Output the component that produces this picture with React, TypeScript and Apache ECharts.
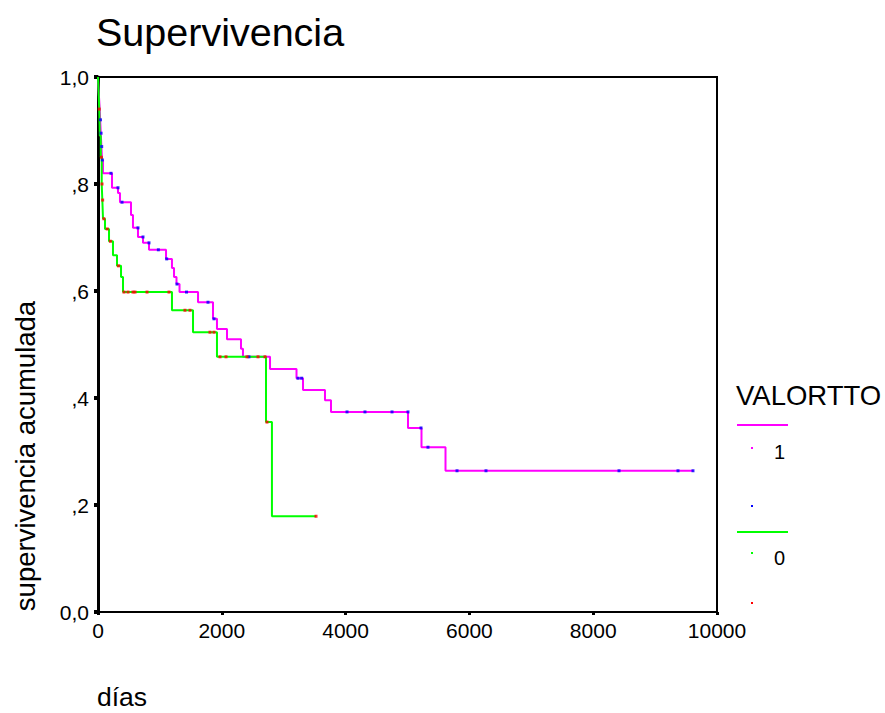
import React, { useEffect, useRef } from "react";
import * as echarts from "echarts";

const FONT = "'Liberation Sans', Arial, sans-serif";

// Kaplan-Meier steps, group VALORTTO = 1 (days, cumulative survival)
const group1Days = [0, 5, 15, 25, 35, 45, 55, 65, 80, 226, 323, 355, 533, 565, 646, 727, 824, 1099, 1195, 1228, 1268, 1317, 1616, 1858, 1922, 2084, 2310, 2342, 2779, 3207, 3312, 3667, 3764, 5008, 5226, 5614, 9620];
const group1Surv = [1.0, 0.985, 0.965, 0.945, 0.92, 0.895, 0.87, 0.845, 0.82, 0.793, 0.783, 0.766, 0.742, 0.718, 0.701, 0.69, 0.677, 0.66, 0.643, 0.626, 0.613, 0.598, 0.579, 0.548, 0.529, 0.51, 0.492, 0.477, 0.454, 0.437, 0.415, 0.396, 0.374, 0.344, 0.308, 0.264, 0.264];

// Kaplan-Meier steps, group VALORTTO = 0
const group0Days = [0, 10, 20, 30, 45, 60, 70, 81, 113, 178, 242, 307, 372, 404, 1195, 1535, 1922, 2714, 2810, 3522];
const group0Surv = [1.0, 0.97, 0.94, 0.89, 0.85, 0.8, 0.77, 0.735, 0.716, 0.693, 0.667, 0.647, 0.626, 0.598, 0.564, 0.523, 0.477, 0.355, 0.179, 0.179];

// Censored observations
const censored1Days = [40, 50, 60, 70, 210, 323, 388, 646, 727, 824, 975, 1110, 1276, 1430, 1777, 1874, 2439, 3231, 3290, 4023, 4313, 4750, 5008, 5218, 5331, 5800, 6268, 8417, 9370, 9612];
const censored1Surv = [0.92, 0.895, 0.87, 0.845, 0.82, 0.793, 0.766, 0.718, 0.701, 0.69, 0.677, 0.66, 0.613, 0.598, 0.579, 0.548, 0.477, 0.437, 0.437, 0.374, 0.374, 0.374, 0.374, 0.344, 0.308, 0.264, 0.264, 0.264, 0.264, 0.264];
const censored0Days = [20, 55, 65, 75, 95, 150, 200, 330, 420, 485, 565, 598, 792, 1147, 1405, 1486, 1809, 1874, 1971, 2068, 2407, 2585, 2698, 2730, 3522];
const censored0Surv = [0.94, 0.85, 0.8, 0.77, 0.735, 0.716, 0.693, 0.647, 0.598, 0.598, 0.598, 0.598, 0.598, 0.598, 0.564, 0.564, 0.523, 0.523, 0.477, 0.477, 0.477, 0.477, 0.477, 0.355, 0.179];

const yTickLabels: Record<string, string> = { "0": "0,0", "0.2": ",2", "0.4": ",4", "0.6": ",6", "0.8": ",8", "1": "1,0" };

const legendTitle = "VALORTTO";
const legendLabels = ["1", "0"];

const zip = (a: number[], b: number[]) => a.map((v, i) => [v, b[i]]);

export default function App() {
  const ref = useRef<HTMLDivElement>(null);
  useEffect(() => {
    if (!ref.current) return;
    const chart = echarts.init(ref.current, null, { renderer: "svg" });
    const dot = (x: number, y: number, c: string) => ({
      type: "rect",
      shape: { x: x - 1, y: y - 1, width: 2, height: 2 },
      style: { fill: c },
    });
    chart.setOption({
      animation: false,
      backgroundColor: "#fff",
      grid: {
        left: 98,
        top: 77,
        right: 168,
        bottom: 101,
        show: true,
        borderColor: "#000",
        borderWidth: 2,
        backgroundColor: "transparent",
      },
      xAxis: {
        type: "value",
        min: 0,
        max: 10000,
        interval: 2000,
        splitLine: { show: false },
        axisLine: { lineStyle: { color: "#000", width: 2 } },
        axisTick: { show: true, length: 3, lineStyle: { color: "#000", width: 3 } },
        axisLabel: { color: "#000", fontSize: 21, fontFamily: FONT, margin: 8, formatter: (v: number) => String(v) },
      },
      yAxis: {
        type: "value",
        min: 0,
        max: 1,
        interval: 0.2,
        splitLine: { show: false },
        axisLine: { lineStyle: { color: "#000", width: 3 } },
        axisTick: { show: true, length: 4, lineStyle: { color: "#000", width: 4 } },
        axisLabel: {
          color: "#000",
          fontSize: 21,
          fontFamily: FONT,
          margin: 9,
          formatter: (v: number) => yTickLabels[String(Math.round(v * 10) / 10)] ?? String(v),
        },
      },
      series: [
        {
          type: "line",
          step: "end",
          showSymbol: false,
          data: zip(group1Days, group1Surv),
          lineStyle: { color: "#ff00ff", width: 2 },
          itemStyle: { color: "#ff00ff" },
          z: 2,
        },
        {
          type: "line",
          step: "end",
          showSymbol: false,
          data: zip(group0Days, group0Surv),
          lineStyle: { color: "#00ff00", width: 2 },
          itemStyle: { color: "#00ff00" },
          z: 3,
        },
        {
          type: "scatter",
          symbol: "rect",
          symbolSize: 3,
          data: zip(censored1Days, censored1Surv),
          itemStyle: { color: "#0000ff" },
          z: 4,
        },
        {
          type: "scatter",
          symbol: "rect",
          symbolSize: 3,
          data: zip(censored0Days, censored0Surv),
          itemStyle: { color: "#ff0000" },
          z: 5,
        },
      ],
      graphic: [
        {
          type: "text",
          x: 96,
          y: 32,
          style: { text: "Supervivencia", fontSize: 39.5, fontFamily: FONT, fill: "#000", align: "left", verticalAlign: "middle" },
        },
        {
          type: "text",
          x: 25,
          y: 456,
          rotation: Math.PI / 2,
          style: { text: "supervivencia acumulada", fontSize: 27.5, fontFamily: FONT, fill: "#000", align: "center", verticalAlign: "middle" },
        },
        {
          type: "text",
          x: 97,
          y: 697,
          style: { text: "días", fontSize: 26.5, fontFamily: FONT, fill: "#000", align: "left", verticalAlign: "middle" },
        },
        {
          type: "text",
          x: 736,
          y: 395,
          style: { text: legendTitle, fontSize: 27.5, fontFamily: FONT, fill: "#000", align: "left", verticalAlign: "middle" },
        },
        { type: "line", shape: { x1: 737, y1: 425, x2: 788, y2: 425 }, style: { stroke: "#ff00ff", lineWidth: 2 } },
        dot(752, 448, "#ff00ff"),
        {
          type: "text",
          x: 774,
          y: 452,
          style: { text: legendLabels[0], fontSize: 20, fontFamily: FONT, fill: "#000", align: "left", verticalAlign: "middle" },
        },
        dot(752, 506, "#0000ff"),
        { type: "line", shape: { x1: 737, y1: 532, x2: 788, y2: 532 }, style: { stroke: "#00ff00", lineWidth: 2 } },
        dot(752, 553, "#00ff00"),
        {
          type: "text",
          x: 774,
          y: 558,
          style: { text: legendLabels[1], fontSize: 20, fontFamily: FONT, fill: "#000", align: "left", verticalAlign: "middle" },
        },
        dot(752, 603, "#ff0000"),
      ],
    });
    return () => chart.dispose();
  }, []);
  return <div ref={ref} style={{ position: "fixed", left: 0, top: 0, width: 885, height: 713 }} />;
}
